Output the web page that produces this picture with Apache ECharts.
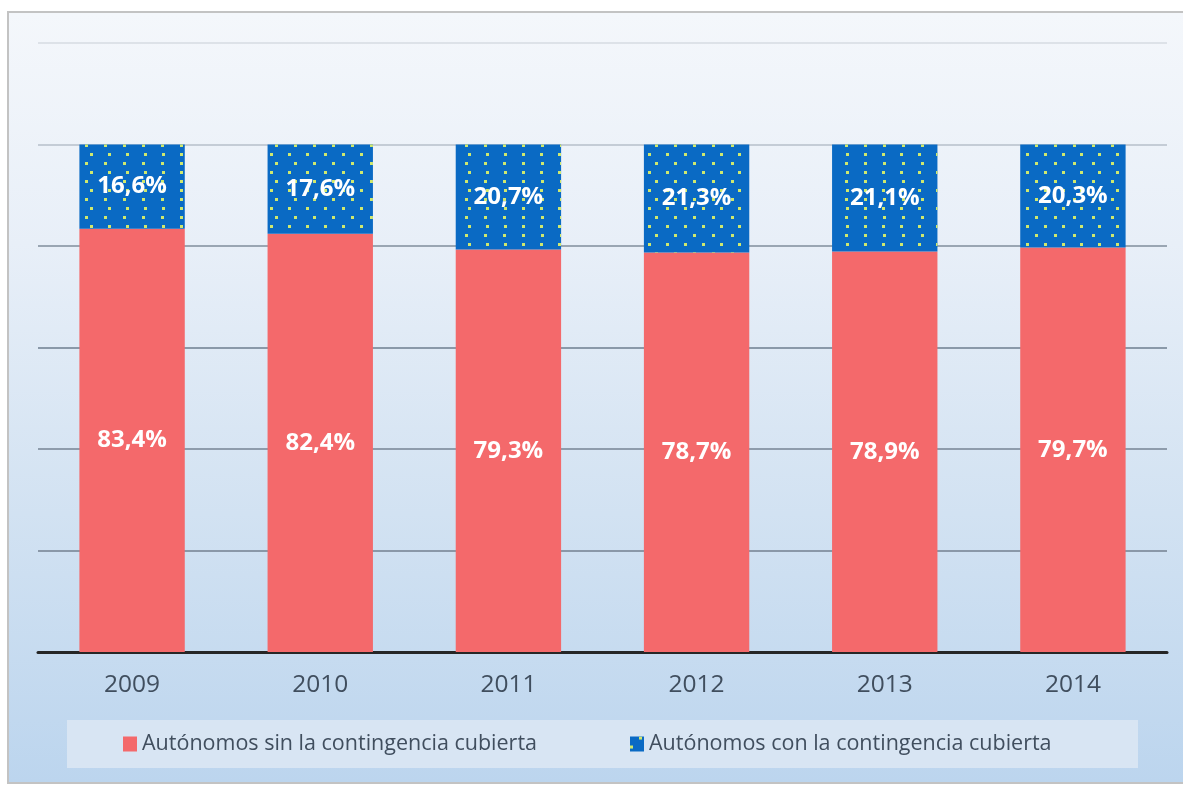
<!DOCTYPE html>
<html>
<head>
<meta charset="utf-8">
<script src="https://cdn.jsdelivr.net/npm/echarts@6/dist/echarts.min.js"></script>
<style>
html,body{margin:0;padding:0;background:#fff;width:1183px;height:785px;overflow:hidden;}
#bg{position:absolute;left:7px;top:11px;width:1190px;height:769px;border-left:2px solid #c3c3c3;border-top:2px solid #c3c3c3;border-bottom:2px solid #c3c3c3;
background:linear-gradient(to bottom,#f4f7fb 0%,#e8eff8 30%,#d2e2f2 65%,#bcd5ee 100%);}
#chart{position:absolute;left:0;top:0;width:1183px;height:785px;}
</style>
</head>
<body>
<div id="bg"></div>
<div id="chart"></div>
<script>
const categories = ['2009','2010','2011','2012','2013','2014'];
const sinCubierta = [83.4, 82.4, 79.3, 78.7, 78.9, 79.7];
const conCubierta = [16.6, 17.6, 20.7, 21.3, 21.1, 20.3];
const seriesNames = ['Autónomos sin la contingencia cubierta','Autónomos con la contingencia cubierta'];

const chart = echarts.init(document.getElementById('chart'), null, {renderer:'canvas'});
const fmt = p => p.value.toFixed(1).replace('.', ',') + '%';
const labelStyle = {show:true, position:'inside', color:'#ffffff', fontFamily:'Open Sans', fontWeight:'bold', fontSize:24, formatter:fmt};
const legendText = {color:'#404e5e', fontFamily:'Open Sans', fontSize:21.5};

chart.setOption({
  backgroundColor:'transparent',
  animation:false,
  grid:{left:38, right:16, top:43, bottom:133},
  graphic:[{type:'rect', shape:{x:67, y:720, width:1071, height:48}, style:{fill:'#d8e5f3'}, z:-1}],
  legend:[
    {data:[seriesNames[0]], left:123, top:733, padding:0, itemWidth:14, itemHeight:15, icon:'rect', textStyle:legendText},
    {data:[seriesNames[1]], left:630, top:733, padding:0, itemWidth:14, itemHeight:15, icon:'rect', textStyle:legendText}
  ],
  xAxis:{
    type:'category', data:categories,
    axisLine:{show:true, lineStyle:{color:'#262626', width:3}},
    axisTick:{show:false},
    axisLabel:{color:'#404e5e', fontFamily:'Open Sans', fontSize:24.5, margin:21},
    splitLine:{show:false}
  },
  yAxis:{
    type:'value', min:0, max:120, interval:20,
    axisLine:{show:false}, axisTick:{show:false}, axisLabel:{show:false},
    splitLine:{show:true, lineStyle:{width:2, color:['#8c9aaa','#8a98a8','#8e9cac','#8a99a9','#9aa6b3','#c4ccd6','#dde2e8']}}
  },
  series:[
    {name:seriesNames[0], type:'bar', stack:'total', data:sinCubierta, barWidth:'56%',
     itemStyle:{color:'#f4696b'}, label:labelStyle},
    {name:seriesNames[1], type:'bar', stack:'total', data:conCubierta, barWidth:'56%',
     itemStyle:{color:'#0a6ac4', decal:{symbol:'rect', symbolSize:1, color:'#cfe86e',
       dashArrayX:[[2.5,15],[0,8.75,2.5,6.25]], dashArrayY:[2.5,6]}},
     label:labelStyle}
  ]
});
</script>
</body>
</html>
